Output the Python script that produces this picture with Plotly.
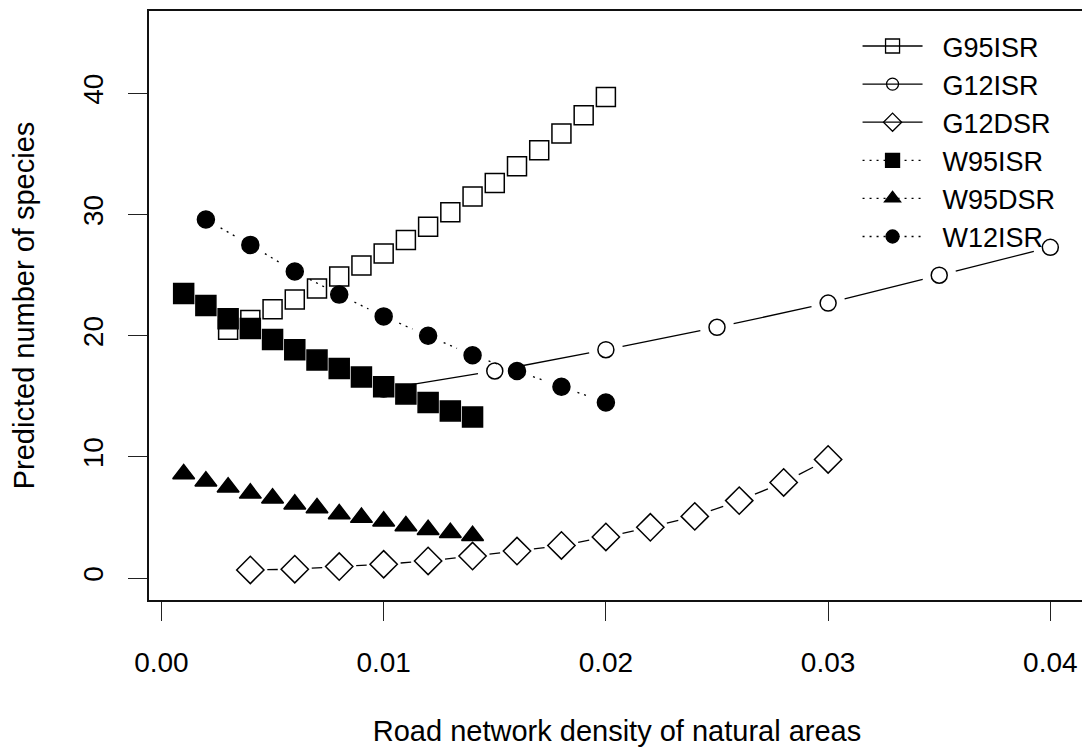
import plotly.graph_objects as go

# ---------------- data ----------------
x_g95isr = [0.003, 0.004, 0.005, 0.006, 0.007, 0.008, 0.009, 0.010, 0.011,
            0.012, 0.013, 0.014, 0.015, 0.016, 0.017, 0.018, 0.019, 0.020]
y_g95isr = [20.5, 21.3, 22.2, 23.0, 23.9, 24.9, 25.8, 26.8, 27.9,
            29.0, 30.2, 31.5, 32.6, 34.0, 35.3, 36.7, 38.2, 39.7]

x_g12isr = [0.010, 0.015, 0.020, 0.025, 0.030, 0.035, 0.040]
y_g12isr = [15.6, 17.1, 18.85, 20.7, 22.7, 25.0, 27.3]

x_g12dsr = [0.004, 0.006, 0.008, 0.010, 0.012, 0.014, 0.016,
            0.018, 0.020, 0.022, 0.024, 0.026, 0.028, 0.030]
y_g12dsr = [0.68, 0.74, 0.96, 1.15, 1.42, 1.83, 2.24,
            2.7, 3.4, 4.2, 5.1, 6.4, 7.9, 9.8]

x_w95isr = [0.001, 0.002, 0.003, 0.004, 0.005, 0.006, 0.007,
            0.008, 0.009, 0.010, 0.011, 0.012, 0.013, 0.014]
y_w95isr = [23.5, 22.5, 21.4, 20.6, 19.7, 18.85, 18.0,
            17.3, 16.6, 15.8, 15.2, 14.5, 13.8, 13.3]

x_w95dsr = [0.001, 0.002, 0.003, 0.004, 0.005, 0.006, 0.007,
            0.008, 0.009, 0.010, 0.011, 0.012, 0.013, 0.014]
y_w95dsr = [8.6, 8.0, 7.5, 7.0, 6.6, 6.1, 5.8,
            5.3, 5.0, 4.7, 4.3, 4.0, 3.75, 3.5]

x_w12isr = [0.002, 0.004, 0.006, 0.008, 0.010, 0.012, 0.014, 0.016, 0.018, 0.020]
y_w12isr = [29.6, 27.5, 25.3, 23.4, 21.6, 20.0, 18.4, 17.1, 15.8, 14.5]

x_ticks = [0.00, 0.01, 0.02, 0.03, 0.04]
x_ticklabels = ["0.00", "0.01", "0.02", "0.03", "0.04"]
y_ticks = [0, 10, 20, 30, 40]

# ---------------- layout constants ----------------
# page has an 8px body margin, so the figure is shifted by 8px right/down
W, H = 1082, 743
ML, MR, MT, MB = 141, 5, 1, 151
XR = [-0.00056, 0.04156]
YR = [-1.8, 46.8]
GAP = 17  # px gap around points (R type="b")
FONT = "Liberation Sans, Arial, sans-serif"
NB = "\u00a0\u00a0"


def gapped(xs, ys):
    """Line segments between successive points, shortened near the points."""
    pw = W - ML - MR
    ph = H - MT - MB
    sx = pw / (XR[1] - XR[0])
    sy = ph / (YR[1] - YR[0])
    ox, oy = [], []
    for i in range(len(xs) - 1):
        ddx = xs[i + 1] - xs[i]
        ddy = ys[i + 1] - ys[i]
        L = ((ddx * sx) ** 2 + (ddy * sy) ** 2) ** 0.5
        if L > 2 * GAP:
            f = GAP / L
            ox += [xs[i] + f * ddx, xs[i + 1] - f * ddx, None]
            oy += [ys[i] + f * ddy, ys[i + 1] - f * ddy, None]
    return ox, oy


series = [
    # name, x, y, symbol, size, legend size, dash
    ("G95ISR", x_g95isr, y_g95isr, "square-open", 19, 14, "solid"),
    ("G12ISR", x_g12isr, y_g12isr, "circle-open", 16, 12, "solid"),
    ("G12DSR", x_g12dsr, y_g12dsr, "diamond-open", 21, 14, "solid"),
    ("W95ISR", x_w95isr, y_w95isr, "square", 20, 14, "2px,5px"),
    ("W95DSR", x_w95dsr, y_w95dsr, "triangle-up", 19, 14, "2px,5px"),
    ("W12ISR", x_w12isr, y_w12isr, "circle", 17, 13, "2px,5px"),
]

fig = go.Figure()
for name, xs, ys, sym, sz, lsz, dash in series:
    lx, ly = gapped(xs, ys)
    fig.add_trace(go.Scatter(
        x=lx, y=ly, mode="lines", showlegend=False, hoverinfo="skip",
        line=dict(color="black", width=1.3, dash=dash)))
    fig.add_trace(go.Scatter(
        x=xs, y=ys, mode="markers", showlegend=False, name=name,
        marker=dict(symbol=sym, size=sz, color="black",
                    line=dict(color="black", width=1.5))))
# legend entries (line through symbol, as in R legend)
for name, xs, ys, sym, sz, lsz, dash in series:
    fig.add_trace(go.Scatter(
        x=[None], y=[None], mode="lines+markers", name=NB + name, showlegend=True,
        line=dict(color="black", width=1.3, dash=dash),
        marker=dict(symbol=sym, size=lsz, color="black",
                    line=dict(color="black", width=1.3))))

fig.update_layout(
    width=W, height=H,
    margin=dict(l=ML, r=MR, t=MT, b=MB, pad=0),
    plot_bgcolor="white", paper_bgcolor="white",
    font=dict(family=FONT, size=28, color="black"),
    showlegend=True,
    legend=dict(x=0.757, y=0.9814, xanchor="left", yanchor="top",
                bgcolor="rgba(0,0,0,0)", borderwidth=0,
                font=dict(family=FONT, size=27, color="black"),
                itemwidth=60, itemsizing="trace", tracegroupgap=0),
    xaxis=dict(range=XR, tickvals=x_ticks, ticktext=x_ticklabels,
               ticks="outside", ticklen=19, tickwidth=1.3, tickcolor="#222",
               showline=True, mirror=True, linecolor="#111", linewidth=1.6,
               showgrid=False, zeroline=False,
               tickfont=dict(size=28), ticklabelstandoff=18,
               title=dict(text="Road network density of natural areas",
                          font=dict(size=29), standoff=43)),
    yaxis=dict(range=YR, tickvals=y_ticks,
               ticks="outside", ticklen=19, tickwidth=1.3, tickcolor="#222",
               showline=True, mirror=True, linecolor="#111", linewidth=1.6,
               showgrid=False, zeroline=False, tickangle=-90,
               tickfont=dict(size=28), ticklabelstandoff=14,
               title=dict(text="Predicted number of species",
                          font=dict(size=29), standoff=37)),
)

fig.write_html("out.html")
